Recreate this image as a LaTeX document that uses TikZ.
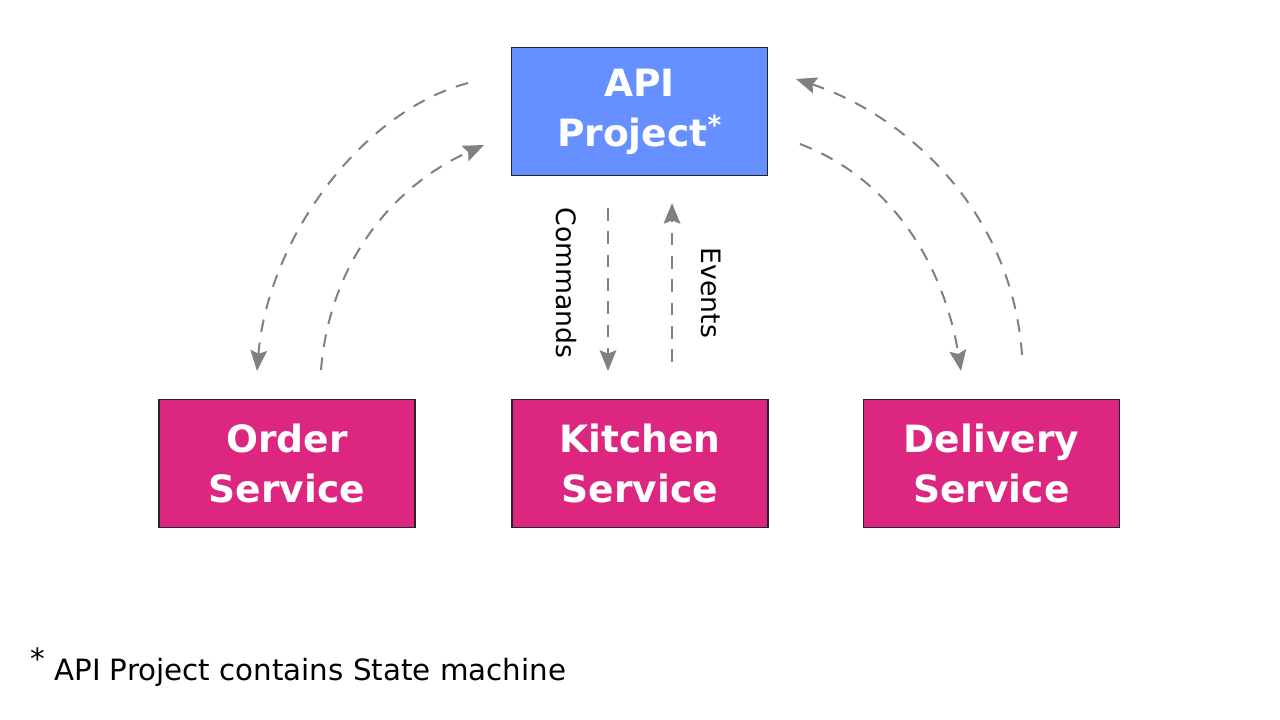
\documentclass[tikz,border=0pt]{standalone}
\usepackage{fontspec}
\setmainfont{DejaVu Sans}
\usetikzlibrary{arrows.meta}
\definecolor{apiblue}{HTML}{668FFF}
\definecolor{svcpink}{HTML}{DC267F}
\definecolor{arrgray}{HTML}{808080}
\tikzset{
  box/.style={draw=black!85, line width=0.8pt, minimum width=192pt, minimum height=95.5pt,
    inner sep=0pt, text=white, align=center,
    font=\bfseries\fontsize{28.2}{37.5}\selectfont},
  flow/.style={draw=arrgray, line width=1.5pt, dash pattern=on 9.5pt off 8pt},
  tip/.style={-{Stealth[length=15.5pt,width=12.5pt,inset=2.5pt]}},
  lbl/.style={font=\fontsize{20}{24}\selectfont, rotate=-90, inner sep=0pt}
}
\begin{document}
\begin{tikzpicture}[x=0.75pt,y=-0.75pt]
\useasboundingbox (0,0) rectangle (1280,720);
\node[box, fill=apiblue] (api) at (639.5,111.5) {\raisebox{-1.5pt}{API}\\\raisebox{-1.5pt}{Project\textsuperscript{*}}};
\node[box, fill=svcpink] (order) at (287,463.5) {\raisebox{-1.5pt}{Order}\\\raisebox{-1.5pt}{Service}};
\node[box, fill=svcpink] (kitchen) at (640,463.5) {Kitchen\\Service};
\node[box, fill=svcpink] (delivery) at (991.5,463.5) {Delivery\\Service};

% free ends of curved connectors
\coordinate (lo1) at (468,83);
\coordinate (lo2) at (257,371);
\coordinate (li1) at (321,370);
\coordinate (li2) at (484,145);
\coordinate (ro1) at (1022,355);
\coordinate (ro2) at (796,79);
\coordinate (ri1) at (800,144);
\coordinate (ri2) at (961,371);
\coordinate (c1) at (608,208);
\coordinate (c2) at (608,371);
\coordinate (e1) at (672,362);
\coordinate (e2) at (672,203);

\draw[flow,tip] (lo1) .. controls (360,112) and (268,240) .. (lo2);
\draw[flow,tip] (li1) .. controls (330,260) and (395,185) .. (li2);
\draw[flow,tip] (ro1) .. controls (1012,210) and (905,115) .. (ro2);
\draw[flow,tip] (ri1) .. controls (895,180) and (945,270) .. (ri2);
\draw[flow,tip] (c1) -- (c2);
\draw[flow,tip] (e1) -- (e2);

\node[lbl] (cmd) at (566,283) {Commands};
\node[lbl] (evt) at (711,293) {Events};

\node[anchor=base west, inner sep=0pt, font=\fontsize{22}{26}\selectfont] (note) at (30,680)
  {\raisebox{8pt}{*} API Project contains State machine};
\end{tikzpicture}
\end{document}
